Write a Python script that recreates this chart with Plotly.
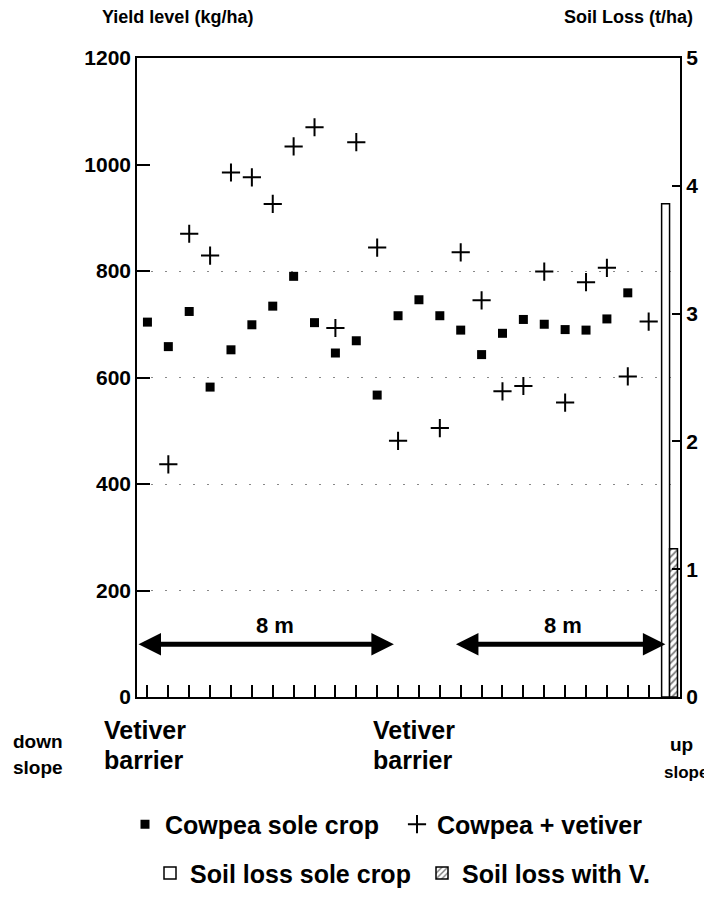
import plotly.graph_objects as go

# ---- data ----
positions = list(range(25))
sole_crop = [704, 658, 724, 582, 652, 699, 734, 790, 703, 646, 669, 567, 716,
             746, 716, 689, 643, 683, 709, 700, 690, 689, 710, 759, None]
with_vetiver = [None, 437, 870, 829, 985, 976, 926, 1034, 1070, 693, 1042, 844, 481,
                None, 505, 835, 745, 574, 584, 799, 553, 779, 806, 602, 705]
soil_slot = [25]
soil_loss_sole = [3.86]
soil_loss_vetiver = [1.16]
yield_ticks = [0, 200, 400, 600, 800, 1000, 1200]
grid_levels = [200, 400, 600, 800]
soil_ticks = [0, 1, 2, 3, 4, 5]
arrow_spans = [(-0.5, 11.8), (14.7, 24.8)]
arrow_level = 99
span_label_x = [6.1, 19.9]
span_label_y = 135
span_labels = ["8 m", "8 m"]

FONT = "Liberation Sans"
BOLD = dict(family=FONT, color="black", weight="bold")

fig = go.Figure()
fig.add_trace(go.Scatter(
    x=positions, y=sole_crop, mode="markers", name="Cowpea sole crop",
    marker=dict(symbol="square", size=9, color="black"), legend="legend"))
fig.add_trace(go.Scatter(
    x=positions, y=with_vetiver, mode="markers", name="Cowpea + vetiver",
    marker=dict(symbol="cross-thin", size=13, color="black",
                line=dict(width=2, color="black")), legend="legend"))
fig.add_trace(go.Bar(
    x=soil_slot, y=soil_loss_sole, name="Soil loss sole crop", yaxis="y2",
    marker=dict(color="white", line=dict(color="black", width=1.5)),
    legend="legend2"))
fig.add_trace(go.Bar(
    x=soil_slot, y=soil_loss_vetiver, name="Soil loss with V.", yaxis="y2",
    marker=dict(color="white", line=dict(color="black", width=1.5),
                pattern=dict(shape="/", fgcolor="black", size=5, solidity=0.35)),
    legend="legend2"))

annotations = []
for (a, b), lx, txt in zip(arrow_spans, span_label_x, span_labels):
    annotations.append(dict(x=b, y=arrow_level, ax=a, ay=arrow_level,
                            xref="x", yref="y", axref="x", ayref="y",
                            showarrow=True, arrowhead=2, arrowside="end+start",
                            arrowsize=0.9, arrowwidth=5, arrowcolor="black", text=""))
    annotations.append(dict(x=lx, y=span_label_y, xref="x", yref="y",
                            text=txt, showarrow=False,
                            font=dict(size=22, **BOLD)))


def paper_x(px):
    return (px - 137) / 543


def paper_y(py):
    return (700 - py) / 642


def lab(text, px, py, size, anchor="left"):
    annotations.append(dict(text=text, x=paper_x(px), y=paper_y(py), xref="paper",
                            yref="paper", xanchor=anchor, yanchor="middle",
                            showarrow=False, font=dict(size=size, **BOLD)))


lab("Yield level (kg/ha)", 100, 17, 18)
lab("Soil Loss (t/ha)", 562, 17, 18)
lab("down", 38, 745, 19, "center")
lab("slope", 38, 771, 19, "center")
lab("Vetiver", 102, 733, 25)
lab("barrier", 102, 763, 25)
lab("Vetiver", 371, 733, 25)
lab("barrier", 371, 763, 25)
lab("up", 668, 748, 19)
lab("slope", 662, 776, 17)

legend_common = dict(orientation="h", xanchor="left", yanchor="middle",
                     font=dict(size=25, **BOLD), bgcolor="rgba(0,0,0,0)",
                     entrywidth=227, entrywidthmode="pixels")

fig.update_layout(
    width=704, height=900, autosize=False,
    margin=dict(l=129, r=32, t=50, b=208),
    paper_bgcolor="white", plot_bgcolor="white",
    font=dict(family=FONT, color="black"),
    barmode="group", bargap=0.24,
    annotations=annotations,
    xaxis=dict(range=[-0.5, 25.5], tickvals=positions, ticks="inside", ticklen=12,
               tickwidth=1.5, tickcolor="black", showticklabels=False,
               showline=True, linewidth=2, linecolor="black", mirror=True,
               showgrid=False, zeroline=False),
    yaxis=dict(range=[0, 1200], tickvals=yield_ticks, ticks="inside", ticklen=13,
               tickwidth=1.5, tickcolor="black", showline=True, linewidth=1.5,
               linecolor="black", showgrid=False, zeroline=False,
               minor=dict(tickvals=grid_levels, showgrid=True, gridcolor="#888",
                          gridwidth=1, griddash="2px,12px", ticks=""),
               tickfont=dict(size=21, **BOLD)),
    yaxis2=dict(range=[0, 5], tickvals=soil_ticks, overlaying="y", side="right",
                ticks="inside", ticklen=8, tickwidth=1.5, tickcolor="black",
                showline=True, linewidth=2, linecolor="black", showgrid=False,
                zeroline=False, tickfont=dict(size=21, **BOLD)),
    legend=dict(x=paper_x(125), y=paper_y(828), **legend_common),
    legend2=dict(x=paper_x(150), y=paper_y(877), **legend_common),
)

fig.write_html("out.html")
